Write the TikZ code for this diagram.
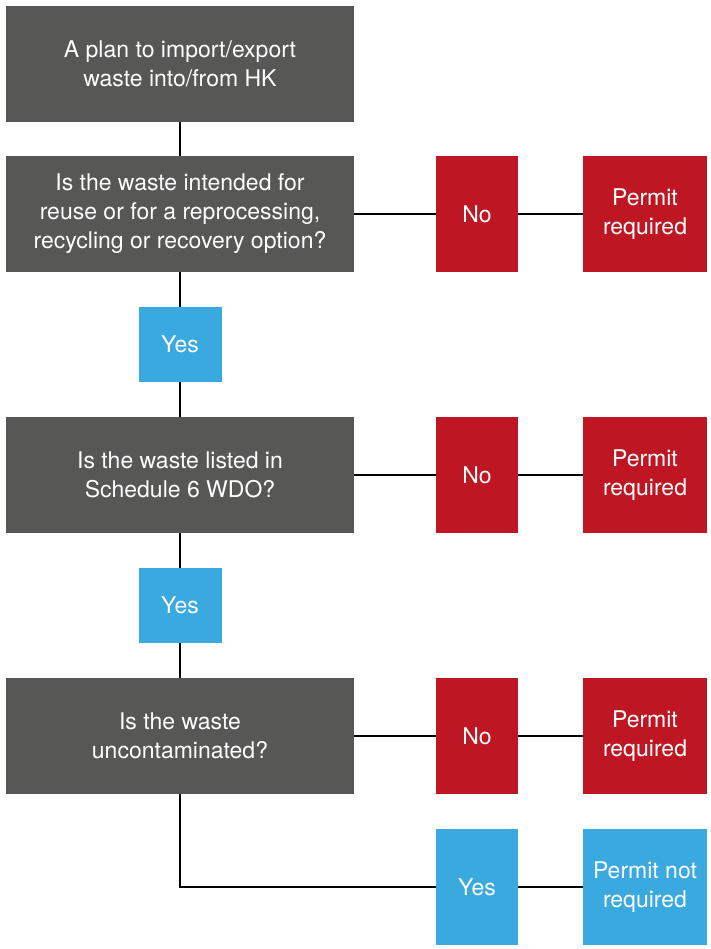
\documentclass[tikz,border=0pt]{standalone}
\usepackage{fontspec}
\setmainfont{TeX Gyre Heros}
\usepackage{tikz}
\usetikzlibrary{positioning}
\definecolor{darkbox}{HTML}{575756}
\definecolor{redbox}{HTML}{BE1622}
\definecolor{bluebox}{HTML}{39A9E0}
\tikzset{
  basebox/.style={text=white,align=center,inner sep=0pt,font=\fontsize{23}{29}\selectfont},
  question/.style={basebox,fill=darkbox,minimum width=348pt,minimum height=116pt},
  nobox/.style={basebox,fill=redbox,minimum width=82pt,minimum height=116pt},
  permitbox/.style={basebox,fill=redbox,minimum width=124pt,minimum height=116pt},
  yesbox/.style={basebox,fill=bluebox,minimum width=83pt,minimum height=75pt},
  link/.style={draw=black,line width=2pt}
}
\begin{document}
\begin{tikzpicture}[x=1pt,y=-1pt]
\useasboundingbox (0,0) rectangle (710,949);
\node[question] (plan) at (180,64) {A plan to import/export\\waste into/from HK};
\node[question] (reuse) at (180,214) {Is the waste intended for\\reuse or for a reprocessing,\\recycling or recovery option?};
\node[yesbox] (yesa) at (180,344.5) {Yes};
\node[question] (listed) at (180,475) {Is the waste listed in\\Schedule 6 WDO?};
\node[yesbox] (yesb) at (180,605.5) {Yes};
\node[question] (clean) at (180,736) {Is the waste\\uncontaminated?};
\node[nobox] (noa) at (477,214) {No};
\node[permitbox] (perma) at (645,214) {Permit\\required};
\node[nobox] (nob) at (477,475) {No};
\node[permitbox] (permb) at (645,475) {Permit\\required};
\node[nobox] (noc) at (477,736) {No};
\node[permitbox] (permc) at (645,736) {Permit\\required};
\node[yesbox,minimum width=82pt,minimum height=116pt] (yesc) at (477,887) {Yes};
\node[basebox,fill=bluebox,minimum width=124pt,minimum height=116pt] (nopermit) at (645,887) {Permit not\\required};
% connectors
\draw[link] (plan) -- (reuse);
\draw[link] (reuse) -- (yesa);
\draw[link] (yesa) -- (listed);
\draw[link] (listed) -- (yesb);
\draw[link] (yesb) -- (clean);
\draw[link] (reuse) -- (noa);
\draw[link] (noa) -- (perma);
\draw[link] (listed) -- (nob);
\draw[link] (nob) -- (permb);
\draw[link] (clean) -- (noc);
\draw[link] (noc) -- (permc);
\draw[link] (clean.south) |- (yesc.west);
\draw[link] (yesc) -- (nopermit);
\end{tikzpicture}
\end{document}
